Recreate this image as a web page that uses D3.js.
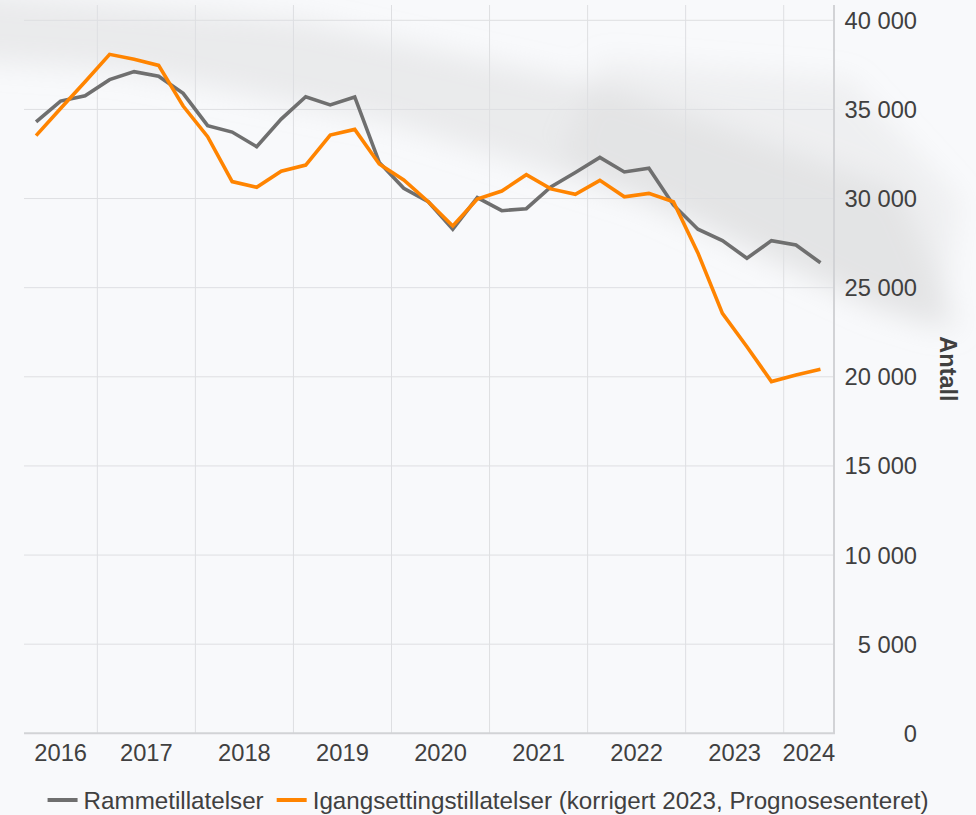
<!DOCTYPE html>
<html lang="no">
<head>
<meta charset="utf-8">
<title>Rammetillatelser og igangsettingstillatelser</title>
<script src="https://d3js.org/d3.v7.min.js"></script>
<style>
  html, body { margin: 0; padding: 0; background: #f8f9fb; }
  svg { display: block; font-family: "Liberation Sans", Arial, sans-serif; }
</style>
</head>
<body>
<div id="chart"></div>
<script>
// quarterly points, first one is 2nd quarter 2016, last one 2nd quarter 2024
const startYear = 2016, startQuarter = 2;
const years = [2016, 2017, 2018, 2019, 2020, 2021, 2022, 2023, 2024];
const yTicks = [0, 5000, 10000, 15000, 20000, 25000, 30000, 35000, 40000];

const ramme = [34300, 35470, 35770, 36670, 37120, 36860, 35900, 34090, 33730, 32910,
  34460, 35710, 35250, 35700, 32030, 30580, 29820, 28280, 30050, 29320,
  29430, 30650, 31460, 32310, 31490, 31700, 29640, 28280, 27640, 26650,
  27640, 27390, 26400];
const igang = [33530, 35050, 36550, 38090, 37810, 37470, 35190, 33470, 30950, 30630,
  31530, 31880, 33560, 33880, 31940, 31040, 29820, 28460, 29970, 30420,
  31340, 30540, 30240, 31020, 30100, 30290, 29820, 26950, 23560, 21690,
  19730, 20100, 20420];

const seriesNames = ["Rammetillatelser", "Igangsettingstillatelser (korrigert 2023, Prognosesenteret)"];
const colors = ["#6f6f6f", "#ff8400"];

const W = 976, H = 815;
const plot = {left: 24, right: 834, top: 5, bottom: 733.3};

const svg = d3.select("#chart").append("svg")
  .attr("width", W).attr("height", H);

// blurred background photo
const defs = svg.append("defs");
defs.append("filter").attr("id", "blur")
  .attr("x", "-20%").attr("y", "-50%").attr("width", "140%").attr("height", "200%")
  .append("feGaussianBlur").attr("stdDeviation", 14);
const bg = svg.append("g").attr("filter", "url(#blur)");
bg.append("path")
  .attr("d", "M-40,-10 L300,20 L620,90 L900,190 L960,330 L880,310 L640,200 L380,120 L120,70 L-40,60 Z")
  .attr("fill", "#c9c9c9").attr("opacity", 0.3);
bg.append("path")
  .attr("d", "M600,60 L850,80 L960,200 L940,330 L860,300 L700,220 L560,160 Z")
  .attr("fill", "#cfcfcf").attr("opacity", 0.22);

// scales: x in fractional years
const x = d3.scaleLinear().domain([2016.252, 2024.513]).range([plot.left, plot.right]);
const y = d3.scaleLinear().domain([0, 40000]).range([733.3, 20.3]);

const pos = i => startYear + (startQuarter - 1 + i + 0.5) / 4;

// grid
const grid = svg.append("g");
grid.selectAll(".hg").data(yTicks.slice(1)).join("line")
  .attr("x1", plot.left).attr("x2", plot.right)
  .attr("y1", d => y(d)).attr("y2", d => y(d))
  .attr("stroke", "#dedfe2").attr("stroke-width", 1);
grid.selectAll(".vg").data(years.slice(1)).join("line")
  .attr("x1", d => x(d)).attr("x2", d => x(d))
  .attr("y1", plot.top).attr("y2", plot.bottom)
  .attr("stroke", "#dedfe2").attr("stroke-width", 1);

// axis lines
svg.append("line").attr("x1", plot.left).attr("x2", plot.right + 1)
  .attr("y1", plot.bottom).attr("y2", plot.bottom)
  .attr("stroke", "#d2d3d6").attr("stroke-width", 2);
svg.append("line").attr("x1", plot.right).attr("x2", plot.right)
  .attr("y1", plot.top).attr("y2", plot.bottom)
  .attr("stroke", "#d2d3d6").attr("stroke-width", 2);

// y labels (right side)
const nb = d3.formatLocale({decimal: ",", thousands: "\u00a0", grouping: [3], currency: ["", " kr"]});
const fmt = nb.format(",d");
svg.append("g").selectAll("text").data(yTicks).join("text")
  .attr("x", 917).attr("y", d => y(d)).attr("dy", "0.36em")
  .attr("text-anchor", "end").attr("font-size", 23.7).attr("fill", "#404040")
  .text(d => fmt(d));

svg.append("text")
  .attr("transform", "translate(940,369) rotate(90)")
  .attr("text-anchor", "middle").attr("font-size", 23.5).attr("font-weight", "bold")
  .attr("fill", "#404040").text("Antall");

// x labels, centred in the visible part of each year
svg.append("g").selectAll("text").data(years).join("text")
  .attr("x", d => (Math.max(x(d), plot.left) + Math.min(x(d + 1), plot.right)) / 2)
  .attr("y", 761).attr("text-anchor", "middle")
  .attr("font-size", 23.7).attr("fill", "#404040")
  .text(d => d);

// lines
const line = d3.line().x((d, i) => x(pos(i))).y(d => y(d));
[ramme, igang].forEach((s, k) => {
  svg.append("path").datum(s)
    .attr("d", line).attr("fill", "none")
    .attr("stroke", colors[k]).attr("stroke-width", 3.6)
    .attr("stroke-linejoin", "miter");
});

// legend
const leg = svg.append("g");
let lx = 0;
seriesNames.forEach((name, k) => {
  const g = leg.append("g").attr("transform", `translate(${lx},0)`);
  g.append("line").attr("x1", 0).attr("x2", 30).attr("y1", 0).attr("y2", 0)
    .attr("stroke", colors[k]).attr("stroke-width", 4);
  const t = g.append("text").attr("x", 36).attr("y", 0).attr("dy", "0.36em")
    .attr("font-size", 24.2).attr("fill", "#404040").text(name);
  lx += 36 + t.node().getComputedTextLength() + 13;
});
lx -= 13;
leg.attr("transform", `translate(${(W - lx) / 2},800)`);
</script>
</body>
</html>
